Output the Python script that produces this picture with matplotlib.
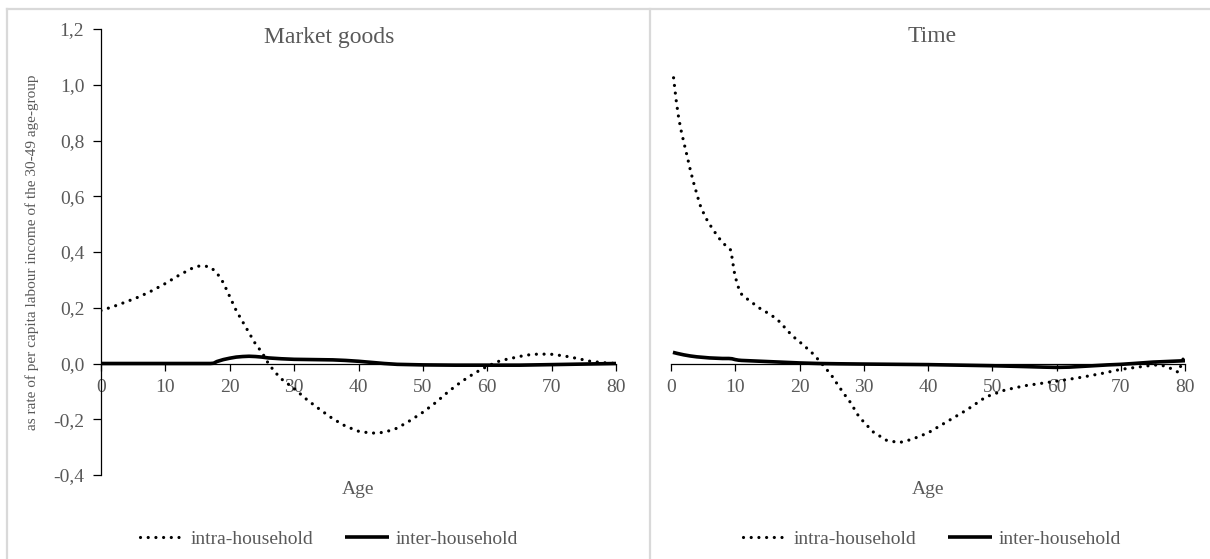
import matplotlib
matplotlib.use("Agg")
import matplotlib.pyplot as plt
from matplotlib.lines import Line2D

plt.rcParams['font.family'] = ['Liberation Serif', 'DejaVu Serif']

# Market goods
goods_intra_age = [0, 2, 4, 6, 8, 10, 12, 14, 15, 16, 17, 18, 19, 20, 21, 22, 23, 24, 25, 26,
                   27, 28, 30, 32, 34, 36, 38, 40, 42, 44, 46, 48, 50, 52, 54, 56, 58, 60,
                   62, 64, 66, 68, 70, 72, 74, 76, 78, 80]
goods_intra = [0.19, 0.205, 0.222, 0.24, 0.262, 0.287, 0.315, 0.34, 0.349, 0.35, 0.346, 0.325,
               0.29, 0.24, 0.19, 0.15, 0.11, 0.07, 0.04, 0.0, -0.03, -0.055, -0.09, -0.13,
               -0.165, -0.198, -0.225, -0.243, -0.25, -0.247, -0.232, -0.205, -0.175, -0.14,
               -0.1, -0.065, -0.035, -0.01, 0.01, 0.02, 0.03, 0.034, 0.033, 0.027, 0.018,
               0.008, 0.003, 0.0]
goods_inter_age = [0, 17, 17.5, 18, 19, 20, 21, 22, 23, 24, 25, 26, 28, 30, 33, 36, 38, 40, 42,
                   44, 46, 50, 55, 60, 65, 70, 75, 80]
goods_inter = [0, 0, 0.001, 0.007, 0.014, 0.019, 0.023, 0.025, 0.026, 0.025, 0.023, 0.02, 0.017,
               0.015, 0.014, 0.013, 0.011, 0.008, 0.004, 0.0, -0.003, -0.005, -0.006, -0.006,
               -0.006, -0.004, -0.002, 0.0]

# Time
time_intra_age = [0.4, 0.8, 1.2, 1.6, 2.0, 2.5, 3.0, 3.5, 4.0, 4.5, 5.0, 5.6, 6.3, 7.0, 7.7, 8.5,
                  9.3, 9.5, 9.7, 9.9, 10.2, 10.6, 11, 12, 13, 14, 15, 16, 17, 18, 19, 20, 21,
                  22, 23, 24, 25, 26, 27, 28, 29, 30, 31.5, 33.5, 35.5, 37.5, 40, 43, 46, 49,
                  52, 55, 58, 61, 64, 67, 70, 73, 75, 76, 77, 78, 79, 80]
time_intra = [1.025, 0.945, 0.88, 0.833, 0.793, 0.745, 0.695, 0.65, 0.61, 0.57, 0.543, 0.515,
              0.489, 0.465, 0.443, 0.423, 0.407, 0.38, 0.35, 0.322, 0.295, 0.265, 0.248, 0.229,
              0.212, 0.195, 0.182, 0.167, 0.148, 0.121, 0.097, 0.078, 0.058, 0.037, 0.012,
              -0.015, -0.043, -0.078, -0.111, -0.142, -0.182, -0.21, -0.246, -0.275, -0.284,
              -0.272, -0.249, -0.208, -0.167, -0.12, -0.095, -0.08, -0.07, -0.06, -0.049,
              -0.036, -0.021, -0.012, -0.006, -0.005, -0.01, -0.02, -0.032, 0.037]
time_inter_age = [0.3, 1, 2, 3, 4, 5, 6, 7, 8, 9, 9.5, 10, 10.5, 11, 13, 15, 17, 20, 23, 26, 30,
                  35, 40, 45, 50, 55, 58, 60, 62, 65, 68, 70, 72, 75, 78, 80]
time_inter = [0.04, 0.036, 0.031, 0.027, 0.024, 0.022, 0.02, 0.019, 0.018, 0.018, 0.017, 0.014,
              0.012, 0.011, 0.009, 0.007, 0.005, 0.002, 0.0, -0.001, -0.002, -0.003, -0.004,
              -0.006, -0.008, -0.011, -0.013, -0.014, -0.013, -0.009, -0.005, -0.003, 0.0,
              0.005, 0.008, 0.01]

x_ticks = [0, 10, 20, 30, 40, 50, 60, 70, 80]
y_ticks = [-0.4, -0.2, 0.0, 0.2, 0.4, 0.6, 0.8, 1.0, 1.2]
titles = ['Market goods', 'Time']
series_labels = ['intra-household', 'inter-household']
y_label = 'as rate of per capita labour income of the 30-49 age-group'

gray = '#595959'
W, H = 1210, 559
fig = plt.figure(figsize=(W / 100, H / 100), dpi=100)


def px_box(x0, x1, y_top, y_bot):
    return [x0 / W, 1 - y_bot / H, (x1 - x0) / W, (y_bot - y_top) / H]


ax1 = fig.add_axes(px_box(101, 616, 29, 475))
ax2 = fig.add_axes(px_box(671, 1185, 29, 475))

data = [(goods_intra_age, goods_intra, goods_inter_age, goods_inter),
        (time_intra_age, time_intra, time_inter_age, time_inter)]
panel_centers = [329, 932]

for i, (ax, (a1, v1, a2, v2)) in enumerate(zip([ax1, ax2], data)):
    l1, = ax.plot(a1, v1, color='black', lw=2.3, linestyle=(0, (0.01, 2.4)),
                  dash_capstyle='round', label=series_labels[0])
    l2, = ax.plot(a2, v2, color='black', lw=2.6, solid_capstyle='butt',
                  label=series_labels[1])
    ax.set_xlim(0, 80)
    ax.set_ylim(-0.4, 1.2)
    ax.spines['top'].set_visible(False)
    ax.spines['right'].set_visible(False)
    ax.spines['bottom'].set_position(('data', 0))
    ax.spines['bottom'].set_linewidth(0.9)
    ax.set_xticks(x_ticks)
    ax.set_xticklabels([str(t) for t in x_ticks])
    ax.tick_params(axis='x', direction='out', length=5, width=0.9, pad=6,
                   labelsize=14, labelcolor=gray)
    ax.patch.set_visible(False)
    ax.text(0.5, -0.033, 'Age', transform=ax.transAxes, ha='center', va='center',
            fontsize=14, color=gray)
    fig.text(panel_centers[i] / W, 1 - 37 / H, titles[i], ha='center', va='center',
             fontsize=17, color=gray)
    fig.legend([l1, l2], series_labels, loc='center', ncol=2, frameon=False,
               bbox_to_anchor=(panel_centers[i] / W, 1 - 539 / H),
               fontsize=14, labelcolor=gray, handlelength=2.3, handletextpad=0.3,
               columnspacing=1.6)

ax1.spines['left'].set_linewidth(0.9)
ax1.set_yticks(y_ticks)
ax1.set_yticklabels([f'{t:.1f}'.replace('.', ',') for t in y_ticks])
ax1.tick_params(axis='y', direction='out', length=6, width=0.9, pad=6,
                labelsize=14, labelcolor=gray)
ax1.set_ylabel(y_label, fontsize=11, color=gray, labelpad=10)

ax2.spines['left'].set_visible(False)
ax2.set_yticks([])

# panel frames
frame = '#d9d9d9'
fig.add_artist(Line2D([7 / W, 1], [1 - 9 / H, 1 - 9 / H], color=frame, lw=1.6))
fig.add_artist(Line2D([7 / W, 7 / W], [0, 1 - 9 / H], color=frame, lw=1.6))
fig.add_artist(Line2D([650 / W, 650 / W], [0, 1 - 9 / H], color=frame, lw=1.6))

fig.savefig('out.png', dpi=100)
